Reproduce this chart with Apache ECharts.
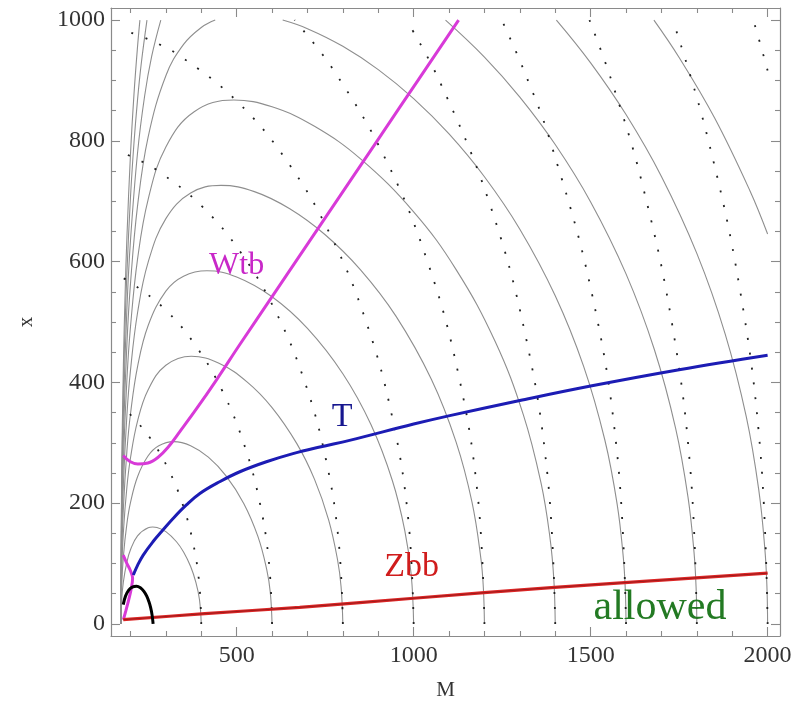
<!DOCTYPE html>
<html>
<head>
<meta charset="utf-8">
<script src="https://cdn.jsdelivr.net/npm/echarts@6/dist/echarts.min.js"></script>
<style>
  html, body { margin: 0; padding: 0; background: #ffffff; }
  #chart { width: 806px; height: 706px; }
</style>
</head>
<body>
<div id="chart"></div>
<script>
// Axis ticks
const xMajorTicks = [500, 1000, 1500, 2000];
const xMinorTicks = [200, 300, 400, 600, 700, 800, 900, 1100, 1200, 1300, 1400, 1600, 1700, 1800, 1900];
const yMajorTicks = [0, 200, 400, 600, 800, 1000];
const yMinorTicks = [50, 100, 150, 250, 300, 350, 450, 500, 550, 650, 700, 750, 850, 900, 950];

// Gray solid contours, one per heavy mass value (400 ... 2200), [M, x]
const arc400 = [[173,0],[175,38.3],[180,69.8],[190,102.9],[200,122.9],[220,145.9],[250,159.4],[263,160.5],[275,159.7],[300,152.8],[330,136.1],[350,119.0],[370,95.0],[385,68.5],[395,40.1],[400,0]];
const arc600 = [[173,0],[175,61.2],[180,111.8],[190,166.4],[200,200.7],[220,243.8],[250,278.4],[280,295.0],[322,301.9],[370,295.2],[420,276.1],[470,245.2],[520,199.6],[560,144.9],[585,90.1],[595,52.3],[600,0]];
const arc800 = [[173,0],[175,83.2],[180,152.2],[190,227.2],[200,274.8],[220,336.0],[250,387.9],[300,428.4],[372,443.4],[450,431.8],[530,400.5],[600,358.3],[670,298.6],[720,239.4],[760,172.0],[785,106.3],[795,61.6],[800,0]];
const arc1000 = [[173,0],[175,105.0],[180,192.1],[190,287.0],[200,347.6],[220,426.1],[250,494.2],[300,551.1],[350,575.8],[416,584.8],[500,574.5],[600,541.7],[700,489.3],[800,414.2],[880,329.3],[940,237.1],[975,154.6],[993,82.2],[1000,0]];
const arc1200 = [[173,0],[175,126.6],[180,231.7],[190,346.4],[200,419.8],[220,515.3],[250,599.1],[300,671.2],[370,713.5],[456,726.2],[550,715.9],[650,687.5],[750,644.5],[850,586.4],[950,509.7],[1050,405.2],[1120,301.0],[1165,201.2],[1190,108.2],[1197,59.3],[1200,0]];
const arc1400 = [[173,0],[175,148.1],[180,271.1],[190,405.5],[200,491.6],[220,604.0],[250,703.2],[300,790.0],[380,848.3],[492,867.6],[600,856.4],[720,824.1],[850,770.1],[1000,682.4],[1120,586.8],[1230,468.1],[1310,346.2],[1360,233.0],[1385,143.4],[1396,74.2],[1400,0]];
const arc1600L = [[173,0],[175,169.5],[180,310.5],[190,464.5],[200,563.2],[220,692.3],[250,806.7],[300,907.9],[350,959.7],[400,987.7],[439.4,1000]];
const arc1600R = [[630,1000],[700,985.8],[800,956.6],[900,918.0],[1000,869.9],[1100,811.4],[1200,740.5],[1300,653.7],[1400,543.5],[1480,426.9],[1540,305.0],[1575,198.0],[1592,112.3],[1598,56.2],[1600,0]];
const arc1800L = [[173,0],[175,191.0],[180,349.7],[190,523.3],[200,634.7],[220,780.4],[240,874.3],[260,940.2],[285.7,1000]];
const arc1800R = [[1090.1,1000],[1200,938.8],[1300,872.5],[1400,793.9],[1500,698.9],[1600,579.7],[1680,454.5],[1740,324.3],[1775,210.4],[1792,119.3],[1798,59.7],[1800,0]];
const arc2000L = [[173,0],[175,212.4],[180,389.0],[185,498.9],[190,582.1],[200,706.1],[210,797.2],[220,868.3],[230,925.7],[246.6,1000]];
const arc2000R = [[1403.3,1000],[1500,929.2],[1600,843.6],[1700,741.1],[1800,613.6],[1880,480.4],[1940,342.4],[1975,222.0],[1992,125.9],[1998,63.0],[2000,0]];
const arc2200L = [[173,0],[175,233.8],[180,428.2],[185,549.2],[190,640.8],[200,777.3],[210,877.8],[220,956.2],[226.7,1000]];
const arc2200R = [[1678.8,1000],[1750,938.1],[1850,838.2],[1950,717.4],[2000,645.7]];

// Dotted contours (400 ... 2200), [M, x]
const ring400 = [[400,0],[393.9,69.5],[375.9,136.8],[346.4,200],[306.4,257.1],[257.1,306.4],[200,346.4],[173,360.7]];
const ring600 = [[600,0],[590.9,104.2],[563.8,205.2],[519.6,300],[459.6,385.7],[385.7,459.6],[300,519.6],[205.2,563.8],[173,574.5]];
const ring800 = [[800,0],[787.8,138.9],[751.8,273.6],[692.8,400],[612.8,514.2],[514.2,612.8],[400,692.8],[273.6,751.8],[207.1,772.7],[173,781.1]];
const ring1000 = [[1000,0],[984.8,173.6],[939.7,342],[866,500],[766,642.8],[642.8,766],[500,866],[342,939.7],[258.8,965.9],[173,984.9]];
const ring1200 = [[1200,0],[1181.8,208.4],[1127.6,410.4],[1039.2,600],[919.2,771.4],[771.3,919.2],[663.3,1000]];
const ring1400 = [[1400,0],[1378.7,243.1],[1315.6,478.8],[1212.4,700],[1072.4,899.9],[979.8,1000]];
const ring1600 = [[1600,0],[1575.7,277.8],[1503.5,547.2],[1385.6,800],[1310.7,917.7],[1249,1000]];
const ring1800 = [[1800,0],[1782.5,250.5],[1730.3,496.1],[1644.4,732.1],[1558.8,900],[1496.7,1000]];
const ring2000 = [[2000,0],[1980.6,278.3],[1922.5,551.3],[1827.1,813.5],[1732.1,1000]];
const ring2200 = [[2000,916.5],[1980,959],[1959.6,1000]];

// Constraint curves, [M, x]
const wtbCurve = [[179.5,278.9],[198.4,269.0],[220.9,264.9],[249.2,266.5],[277.4,275.6],[305.6,292.1],[339.5,318.5],[386.7,356.4],[443.1,404.3],[508.9,462.7],[602,543.7],[678.2,609.9],[827.8,739.9],[960.5,855.3],[1127,1000]];
const wtbStub = [[179.5,114],[190,100],[200,88],[206,76],[202,58],[195,40],[187,22],[180,7]];
const tCurve = [[208,81],[220,97],[236,114],[264,136.5],[288,153],[321,175],[358,197],[396,216],[452,235.5],[509,252],[584,268.5],[659,282],[735,293],[819,304],[1000,331],[1102,345],[1300,370],[1500,394],[1750,421],[2000,445]];
const zbbLine = [[179.5,7],[410,17],[678,27.5],[1000,42.5],[1398,60.5],[2000,84]];
const blackArc = [[179.5,32],[186,46],[195,56],[205,61],[217,62.5],[228,60],[238,54],[246,46],[252,37],[257,27],[261,15],[264,0]];

// In-plot labels
const labelTexts = ['Wtb', 'T', 'Zbb', 'allowed'];
const labelSpots = [[500,594],[798,342],[994,94],[1696,26]];

const solidArcs = [arc400, arc600, arc800, arc1000, arc1200, arc1400, arc1600L, arc1600R, arc1800L, arc1800R, arc2000L, arc2000R, arc2200L, arc2200R];
const dottedRings = [ring400, ring600, ring800, ring1000, ring1200, ring1400, ring1600, ring1800, ring2000, ring2200];

const SERIF = '"Liberation Serif", "DejaVu Serif", serif';
const frameColor = '#8a8a8a';
const X_MIN = 145, X_MAX = 2035, Y_MIN = -20, Y_MAX = 1020;

function axisPart(kind, position, ticks, len, withFrame, withLabels) {
  const ax = {
    type: 'value',
    position: position,
    min: kind === 'x' ? X_MIN : Y_MIN,
    max: kind === 'x' ? X_MAX : Y_MAX,
    axisLine: { show: withFrame, onZero: false, lineStyle: { color: frameColor, width: 1.2 } },
    axisTick: { show: true, inside: true, length: len, customValues: ticks, lineStyle: { color: frameColor, width: 1.1 } },
    axisLabel: { show: false },
    splitLine: { show: false },
    minorTick: { show: false },
    minorSplitLine: { show: false }
  };
  if (withLabels) {
    ax.axisLabel = {
      show: true,
      customValues: ticks,
      formatter: function (v) { return String(v); },
      fontFamily: SERIF,
      fontSize: 24,
      color: '#333333',
      margin: kind === 'x' ? 8 : 6
    };
  }
  return ax;
}

const xAxes = [
  axisPart('x', 'bottom', xMajorTicks, 9, true, true),
  axisPart('x', 'bottom', xMinorTicks, 5, false, false),
  axisPart('x', 'top', xMajorTicks, 9, true, false),
  axisPart('x', 'top', xMinorTicks, 5, false, false)
];
xAxes[0].name = 'M';
xAxes[0].nameLocation = 'middle';
xAxes[0].nameGap = 44;
xAxes[0].nameTextStyle = { fontFamily: SERIF, fontSize: 21, color: '#333333' };

const yAxes = [
  axisPart('y', 'left', yMajorTicks, 9, true, true),
  axisPart('y', 'left', yMinorTicks, 5, false, false),
  axisPart('y', 'right', yMajorTicks, 9, true, false),
  axisPart('y', 'right', yMinorTicks, 5, false, false)
];
yAxes[0].name = 'x';
yAxes[0].nameLocation = 'middle';
yAxes[0].nameGap = 74;
yAxes[0].nameRotate = 90;
yAxes[0].nameTextStyle = { fontFamily: SERIF, fontSize: 21, color: '#333333' };

const series = [];
solidArcs.forEach(function (d) {
  series.push({
    type: 'line', data: d, showSymbol: false, smooth: 0.4, silent: true, z: 1,
    lineStyle: { color: '#8e8e8e', width: 1.1 }
  });
});
dottedRings.forEach(function (d) {
  series.push({
    type: 'line', data: d, showSymbol: false, smooth: 0.4, silent: true, z: 2,
    lineStyle: { color: '#222222', width: 1.8, type: [2, 13] }
  });
});
series.push({
  type: 'line', name: 'Wtb', data: wtbCurve, showSymbol: false, smooth: 0.4, z: 5,
  lineStyle: { color: '#d83ad8', width: 3 }
});
series.push({
  type: 'line', name: 'Wtb low', data: wtbStub, showSymbol: false, smooth: 0.4, z: 5,
  lineStyle: { color: '#d83ad8', width: 3 }
});
series.push({
  type: 'line', name: 'T', data: tCurve, showSymbol: false, smooth: 0.4, z: 6,
  lineStyle: { color: '#1c1cb4', width: 3 }
});
series.push({
  type: 'line', name: 'Zbb', data: zbbLine, showSymbol: false, smooth: 0.3, z: 6,
  lineStyle: { color: '#dc2626', width: 3.2 }
});
series.push({
  type: 'line', name: 'Zbb core', data: zbbLine, showSymbol: false, smooth: 0.3, z: 7,
  lineStyle: { color: '#5a0e0e', width: 0.9, opacity: 0.55 }
});
series.push({
  type: 'line', name: 'b', data: blackArc, showSymbol: false, smooth: 0.4, z: 7,
  lineStyle: { color: '#000000', width: 3 }
});

const labelColors = { 'Wtb': '#c828c8', 'T': '#16168f', 'Zbb': '#d01c1c', 'allowed': '#237a23' };
const labelSizes = { 'Wtb': 32, 'T': 34, 'Zbb': 34, 'allowed': 42 };
series.push({
  type: 'scatter', z: 10, silent: true, symbolSize: 1,
  itemStyle: { color: 'rgba(0,0,0,0)', opacity: 1 },
  data: labelTexts.map(function (t, i) {
    return {
      value: labelSpots[i], name: t,
      label: {
        show: true, position: 'inside', formatter: t, opacity: 1,
        textBorderWidth: 0,
        fontFamily: SERIF, fontSize: labelSizes[t], color: labelColors[t]
      }
    };
  })
});

const chart = echarts.init(document.getElementById('chart'), null, { renderer: 'canvas' });
chart.setOption({
  animation: false,
  backgroundColor: '#ffffff',
  grid: { left: 111, right: 26, top: 8, bottom: 68, containLabel: false },
  xAxis: xAxes,
  yAxis: yAxes,
  series: series
});
</script>
</body>
</html>
